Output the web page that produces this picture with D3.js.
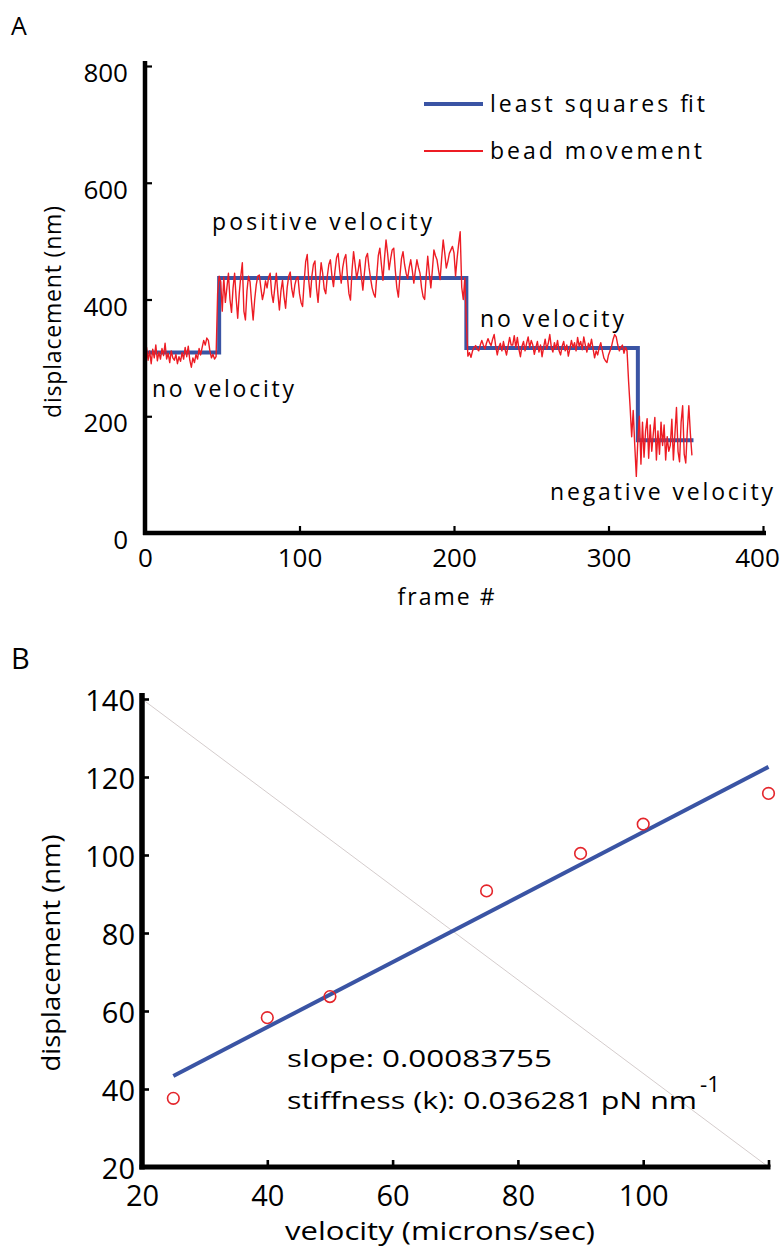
<!DOCTYPE html>
<html>
<head>
<meta charset="utf-8">
<script src="https://cdn.jsdelivr.net/npm/d3@7/dist/d3.min.js"></script>
<style>
  html, body { margin: 0; padding: 0; background: #fff; }
  svg { display: block; font-family: "Open Sans", "Noto Sans", sans-serif; }
</style>
</head>
<body>
<svg id="fig" width="782" height="1247"></svg>
<script>
// ---------- Panel A: bead displacement per frame ----------
// bead position (nm) for frames 0,1,2,...
const beadDisplacement = [
  305,318,296,312,290,315,300,322,295,310,
  298,316,304,325,298,308,292,312,300,296,
  306,290,302,294,309,298,318,302,320,296,
  284,300,292,306,298,316,305,318,330,322,
  334,330,312,300,306,298,302,410,
  440,430,380,438,395,420,445,400,378,420,
  445,402,368,410,440,463,380,365,415,440,
  430,395,365,400,425,440,442,420,400,412,
  432,420,438,445,410,395,
  420,445,410,382,415,433,405,385,420,440,
  447,418,404,425,436,439,410,395,388,430,
  465,477,432,404,440,460,466,420,395,430,
  463,445,418,410,440,460,468,440,422,450,
  472,479,450,428,455,470,477,440,410,399,
  450,482,460,436,450,468,440,416,445,472,
  479,455,436,420,410,404,440,475,488,460,
  433,470,502,480,451,470,485,488,450,420,
  404,440,470,482,460,445,436,455,468,450,
  428,450,468,455,445,420,405,400,440,474,
  445,420,450,485,475,468,450,434,470,502,
  480,454,465,479,485,491,480,440,470,495,
  516,421,400,437,
  360,
  303,309,301,312,318,321,315,312,322,
  330,322,315,325,333,326,321,332,340,320,
  305,318,325,312,328,315,305,320,335,322,
  322,338,318,335,315,302,320,328,312,325,
  336,318,330,322,306,318,328,310,322,302,
  318,332,315,325,340,318,310,326,315,330,
  312,305,320,328,312,322,303,316,330,318,
  326,312,335,320,328,314,336,322,310,325,
  318,332,316,300,312,
  305,318,326,312,300,295,292,305,312,320,
  332,340,336,322,312,318,322,308,318,312,
  260,215,165,210,150,97,
  160,200,118,190,130,175,196,128,185,140,
  170,198,125,175,135,190,150,185,125,165,
  140,150,195,125,170,215,140,122,190,218,
  135,120,175,218,170,133
];

// piecewise-constant least squares fit
const fitStartFrame = [0, 48, 208, 319];
const fitEndFrame   = [48, 208, 319, 355];
const fitLevel      = [309, 437, 317, 159];

const frameTicks = [0, 100, 200, 300, 400];
const dispTicksA = [0, 200, 400, 600, 800];

const legendLabels = ["least squares fit", "bead movement"];
const phaseLabels  = ["positive velocity", "no velocity", "no velocity", "negative velocity"];

// ---------- Panel B: displacement vs velocity ----------
const velocity        = [25, 40, 50, 75, 90, 100, 120];
const displacementB   = [37.6, 58.3, 63.7, 90.8, 100.4, 107.9, 115.8];
const velocityTicks   = [20, 40, 60, 80, 100, 120];
const dispTicksB      = [20, 40, 60, 80, 100, 120, 140];
const slopeText       = "slope: 0.00083755";
const stiffnessText   = "stiffness (k): 0.036281 pN nm";

const BLUE = "#3a54a4";
const RED  = "#ed1c24";

const svg = d3.select("#fig");
svg.append("rect").attr("width", 782).attr("height", 1247).attr("fill", "#fff");

// text helper: fixed run length, filled by letter spacing or by stretching glyphs
function spacedText(g, str, x, y, size, len, opts = {}) {
  const t = g.append("text")
    .attr("x", x).attr("y", y)
    .attr("font-size", size)
    .attr("fill", "#000")
    .attr("text-anchor", opts.anchor || "start")
    .text(str);
  if (len) t.attr("textLength", len).attr("lengthAdjust", opts.adjust || "spacing");
  if (opts.transform) t.attr("transform", opts.transform);
  return t;
}

// ================= Panel A =================
const xA = d3.scaleLinear().domain([0, 400]).range([145, 763]);
const yA = d3.scaleLinear().domain([0, 800]).range([533, 66]);
const gA = svg.append("g");

spacedText(gA, "A", 11, 35, 25);

// step fit
const fitPts = [];
fitLevel.forEach((lv, i) => {
  fitPts.push([fitStartFrame[i], lv]);
  fitPts.push([fitEndFrame[i], lv]);
});
gA.append("path")
  .attr("d", d3.line().x(d => xA(d[0])).y(d => yA(d[1]))(fitPts))
  .attr("fill", "none").attr("stroke", BLUE).attr("stroke-width", 4)
  .attr("stroke-linejoin", "miter");

// bead trace
gA.append("path")
  .attr("d", d3.line().x((d, i) => xA(i)).y(d => yA(d))(beadDisplacement))
  .attr("fill", "none").attr("stroke", RED).attr("stroke-width", 1.4)
  .attr("stroke-linejoin", "round");

// axes
const axAy = gA.append("g").attr("transform", `translate(${xA(0)},0)`)
  .call(d3.axisLeft(yA).tickValues(dispTicksA).tickSize(-7).tickSizeOuter(0).tickPadding(17));
const axAx = gA.append("g").attr("transform", `translate(0,${yA(0)})`)
  .call(d3.axisBottom(xA).tickValues(frameTicks).tickSize(-7).tickSizeOuter(0));
[axAy, axAx].forEach(a => {
  a.select(".domain").remove();
  a.selectAll(".tick line").attr("stroke", "#000").attr("stroke-width", 2.2);
  a.selectAll(".tick text").attr("font-size", 26).attr("fill", "#000")
    .attr("font-family", "\"Open Sans\", sans-serif");
});
axAy.selectAll(".tick text").attr("dy", "0.6em");
axAx.selectAll(".tick text").attr("y", 34).attr("dy", 0)
  .attr("x", d => d === 400 ? -6 : 0);
gA.append("line").attr("x1", xA(0)).attr("x2", xA(0)).attr("y1", yA(0) + 2).attr("y2", yA(800) - 5)
  .attr("stroke", "#000").attr("stroke-width", 4.5);
gA.append("line").attr("x1", xA(0) - 2).attr("x2", xA(400) + 3).attr("y1", yA(0)).attr("y2", yA(0))
  .attr("stroke", "#000").attr("stroke-width", 4.5);

// axis titles
spacedText(gA, "displacement (nm)", 0, 0, 23, 212,
  { anchor: "middle", transform: "translate(61,312) rotate(-90)" });
spacedText(gA, "frame #", 446, 605, 23, 97, { anchor: "middle" });

// legend
const legendColors = [BLUE, RED];
const legendWidths = [4, 1.8];
const legendText = [215, 212];
legendLabels.forEach((lab, i) => {
  const yy = 104 + i * 47;
  gA.append("line").attr("x1", 424).attr("x2", 483).attr("y1", yy).attr("y2", yy)
    .attr("stroke", legendColors[i]).attr("stroke-width", legendWidths[i]);
  spacedText(gA, lab, 490, yy + 8, 23, legendText[i]);
});

// phase annotations
const phasePos = [[212, 230, 220], [152, 397, 142], [480, 327, 144], [550, 500, 223]];
phaseLabels.forEach((lab, i) => {
  spacedText(gA, lab, phasePos[i][0], phasePos[i][1], 23, phasePos[i][2]);
});

// ================= Panel B =================
const xB = d3.scaleLinear().domain([20, 120]).range([142, 768.5]);
const yB = d3.scaleLinear().domain([20, 140]).range([1167, 699]);
const gB = svg.append("g");

spacedText(gB, "B", 11, 669, 29);

// faint corner-to-corner guide
gB.append("line")
  .attr("x1", xB(20)).attr("y1", yB(140)).attr("x2", xB(120)).attr("y2", yB(20))
  .attr("stroke", "#cfc6c6").attr("stroke-width", 0.9);

// least-squares line through the points
const mx = d3.mean(velocity), my = d3.mean(displacementB);
const sxy = d3.sum(velocity, (v, i) => (v - mx) * (displacementB[i] - my));
const sxx = d3.sum(velocity, v => (v - mx) * (v - mx));
const slope = sxy / sxx, intercept = my - slope * mx;
const vLo = d3.min(velocity), vHi = d3.max(velocity);
gB.append("line")
  .attr("x1", xB(vLo)).attr("y1", yB(intercept + slope * vLo))
  .attr("x2", xB(vHi)).attr("y2", yB(intercept + slope * vHi))
  .attr("stroke", BLUE).attr("stroke-width", 4);

// measured points
gB.selectAll("circle.pt").data(velocity).join("circle")
  .attr("class", "pt")
  .attr("cx", d => xB(d)).attr("cy", (d, i) => yB(displacementB[i]))
  .attr("r", 5.8).attr("fill", "none").attr("stroke", "#e4252b").attr("stroke-width", 1.6);

// axes
const axBy = gB.append("g").attr("transform", `translate(${xB(20)},0)`)
  .call(d3.axisLeft(yB).tickValues(dispTicksB).tickSize(-7).tickSizeOuter(0).tickPadding(7));
const axBx = gB.append("g").attr("transform", `translate(0,${yB(20)})`)
  .call(d3.axisBottom(xB).tickValues(velocityTicks).tickSize(-7).tickSizeOuter(0)
    .tickFormat(d => d === 120 ? "" : d));
[axBy, axBx].forEach(a => {
  a.select(".domain").remove();
  a.selectAll(".tick line").attr("stroke", "#000").attr("stroke-width", 2.6);
  a.selectAll(".tick text").attr("font-size", 29).attr("fill", "#000")
    .attr("font-family", "\"Open Sans\", sans-serif");
});
axBy.selectAll(".tick text").attr("dy", "0.38em");
axBx.selectAll(".tick text").attr("y", 39).attr("dy", 0);
gB.append("line").attr("x1", xB(20)).attr("x2", xB(20)).attr("y1", yB(20) + 2.5).attr("y2", yB(140) - 6)
  .attr("stroke", "#000").attr("stroke-width", 5.5);
gB.append("line").attr("x1", xB(20) - 2.5).attr("x2", xB(120) + 2).attr("y1", yB(20)).attr("y2", yB(20))
  .attr("stroke", "#000").attr("stroke-width", 5);

spacedText(gB, "displacement (nm)", 0, 0, 25, 237,
  { anchor: "middle", transform: "translate(60,953) rotate(-90)", adjust: "spacingAndGlyphs" });
spacedText(gB, "velocity (microns/sec)", 440, 1240, 25, 310,
  { anchor: "middle", adjust: "spacingAndGlyphs" });

// fit annotation
spacedText(gB, slopeText, 287, 1067, 24, 265, { adjust: "spacingAndGlyphs" });
spacedText(gB, stiffnessText, 287, 1109, 24, 410, { adjust: "spacingAndGlyphs" });
spacedText(gB, "-1", 700, 1092, 22, 20, { adjust: "spacingAndGlyphs" });
</script>
</body>
</html>
